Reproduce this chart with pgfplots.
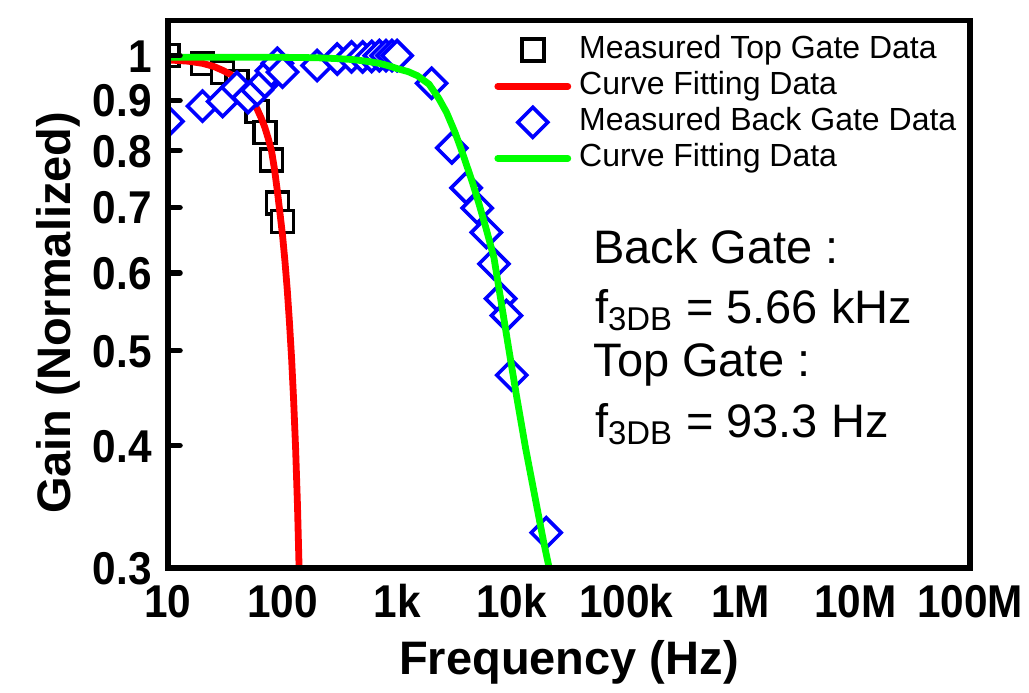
\documentclass[border=0pt]{standalone}
\usepackage{fontspec}
\setmainfont{Liberation Sans}
\usepackage{pgfplots}
\pgfplotsset{compat=1.18}
\newcommand{\tl}[1]{\scalebox{0.92}[1]{#1}}
\begin{document}
\begin{tikzpicture}
\begin{axis}[
    at={(0,0)}, anchor=south west,
    scale only axis, width=401pt, height=273.75pt,
    xmode=log, ymode=log,
    xmin=10, xmax=1e8, ymin=0.3, ymax=1.086,
    xtick={10,100,1000,10000,100000,1000000,10000000,100000000},
    xticklabels={\tl{10},\tl{100},\tl{1k},\tl{10k},\tl{100k},\tl{1M},\tl{10M},\tl{100M}},
    ytick={0.3,0.4,0.5,0.6,0.7,0.8,0.9,1},
    yticklabels={\tl{0.3},\tl{0.4},\tl{0.5},\tl{0.6},\tl{0.7},\tl{0.8},\tl{0.9},\tl{1}},
    xminorticks=false, yminorticks=false,
    tick align=inside, ytick pos=left, xtick pos=bottom,
    x tick style={draw=none},
    y tick style={line width=2.8pt, black, line cap=round},
    major tick length=6pt,
    axis line style={line width=2.8pt},
    ticklabel style={font=\bfseries\fontsize{23}{23}\selectfont,
        inner sep=0pt, text height=16.5pt, text depth=0pt},
    xticklabel style={anchor=north, yshift=-8pt},
    yticklabel style={anchor=east, xshift=-8pt},
    xlabel={Frequency (Hz)}, ylabel={Gain (Normalized)},
    label style={font=\bfseries\fontsize{23.5}{23.5}\selectfont},
    xlabel style={at={(axis description cs:0.5,-0.1954)}, anchor=base},
    ylabel style={at={(axis description cs:-0.121,0.466)}, anchor=base},
    clip marker paths=true, axis on top,
    legend style={draw=none, fill=none, inner sep=0pt, outer sep=0pt,
        at={(axis description cs:0.407,0.973)},
        anchor=north west, font=\fontsize{16}{16}\selectfont,
        nodes={inner sep=0pt, text height=11.5pt, text depth=3.5pt},
        row sep=3pt, column sep=4pt, cells={anchor=west}},
    legend image code/.code={\draw[mark repeat=2,mark phase=2] plot coordinates {(0pt,0pt) (17.5pt,0pt) (35pt,0pt)};},
]
% top gate measured
\addplot[only marks, mark=square*, mark size=5.5pt,
    mark options={draw=black, fill=white, line width=1.8pt}] coordinates {
    (10,1.0) (20,0.982) (30,0.961) (40,0.941) (60,0.877)
    (70,0.835) (80,0.782) (90,0.707) (100,0.677)
};
\addlegendentry{Measured Top Gate Data}
% top gate fit
\addplot[red, line width=3.4pt, line cap=round, no marks] coordinates {
    (10,0.99) (15,0.987) (20,0.982) (25,0.975) (30,0.966) (35,0.957)
    (40,0.945) (45,0.93) (50,0.914) (55,0.898) (60,0.882) (65,0.864)
    (70,0.845) (75,0.823) (80,0.80) (85,0.766) (90,0.728) (95,0.69)
    (100,0.655) (105,0.616) (110,0.576) (115,0.533) (120,0.49)
    (125,0.444) (130,0.397) (135,0.347) (140,0.294)
};
\addlegendentry{Curve Fitting Data}
% back gate measured
\addplot[only marks, mark=square*, mark size=5.3pt,
    mark options={draw=blue, fill=white, line width=1.8pt, rotate=45}] coordinates {
    (10,0.857) (20,0.888) (30,0.898) (40,0.928) (50,0.906) (60,0.922)
    (70,0.94) (80,0.965) (90,0.982) (100,0.962)
    (200,0.977) (300,0.992) (400,0.997) (500,0.997) (600,0.998)
    (700,1.0) (800,1.0) (900,1.0) (1000,1.0)
    (2000,0.937) (3000,0.805) (4000,0.733) (5000,0.699) (6000,0.66)
    (7000,0.613) (8000,0.565) (9000,0.543) (10000,0.472) (20000,0.326)
};
\addlegendentry{Measured Back Gate Data}
% back gate fit
\addplot[color={rgb,255:red,0;green,255;blue,0}, line width=3.4pt, line cap=round, no marks] coordinates {
    (10,0.996) (100,0.996) (200,0.995) (300,0.993) (400,0.991) (500,0.988)
    (600,0.985) (700,0.982) (800,0.978) (900,0.974) (1000,0.97)
    (1250,0.963) (1500,0.954) (1900,0.935) (2300,0.905) (2700,0.875)
    (3200,0.835) (3700,0.797) (4500,0.745) (5200,0.705) (6000,0.665)
    (7000,0.622) (8000,0.565) (9400,0.503) (11000,0.45) (13200,0.398)
    (16000,0.354) (19000,0.319) (21500,0.298)
};
\addlegendentry{Curve Fitting Data}
\node[anchor=base west, inner sep=0pt, font=\fontsize{23.5}{23.5}\selectfont]
    at (rel axis cs:0.530,0.557) {Back Gate :};
\node[anchor=base west, inner sep=0pt, font=\fontsize{23.5}{23.5}\selectfont]
    at (rel axis cs:0.532,0.4475) {f\textsubscript{3DB} = 5.66 kHz};
\node[anchor=base west, inner sep=0pt, font=\fontsize{23.5}{23.5}\selectfont]
    at (rel axis cs:0.530,0.349) {Top Gate :};
\node[anchor=base west, inner sep=0pt, font=\fontsize{23.5}{23.5}\selectfont]
    at (rel axis cs:0.532,0.239) {f\textsubscript{3DB} = 93.3 Hz};
\end{axis}
\pgfresetboundingbox
\useasboundingbox (-84pt,-62pt) rectangle (430.5pt,284pt);
\end{tikzpicture}
\end{document}
